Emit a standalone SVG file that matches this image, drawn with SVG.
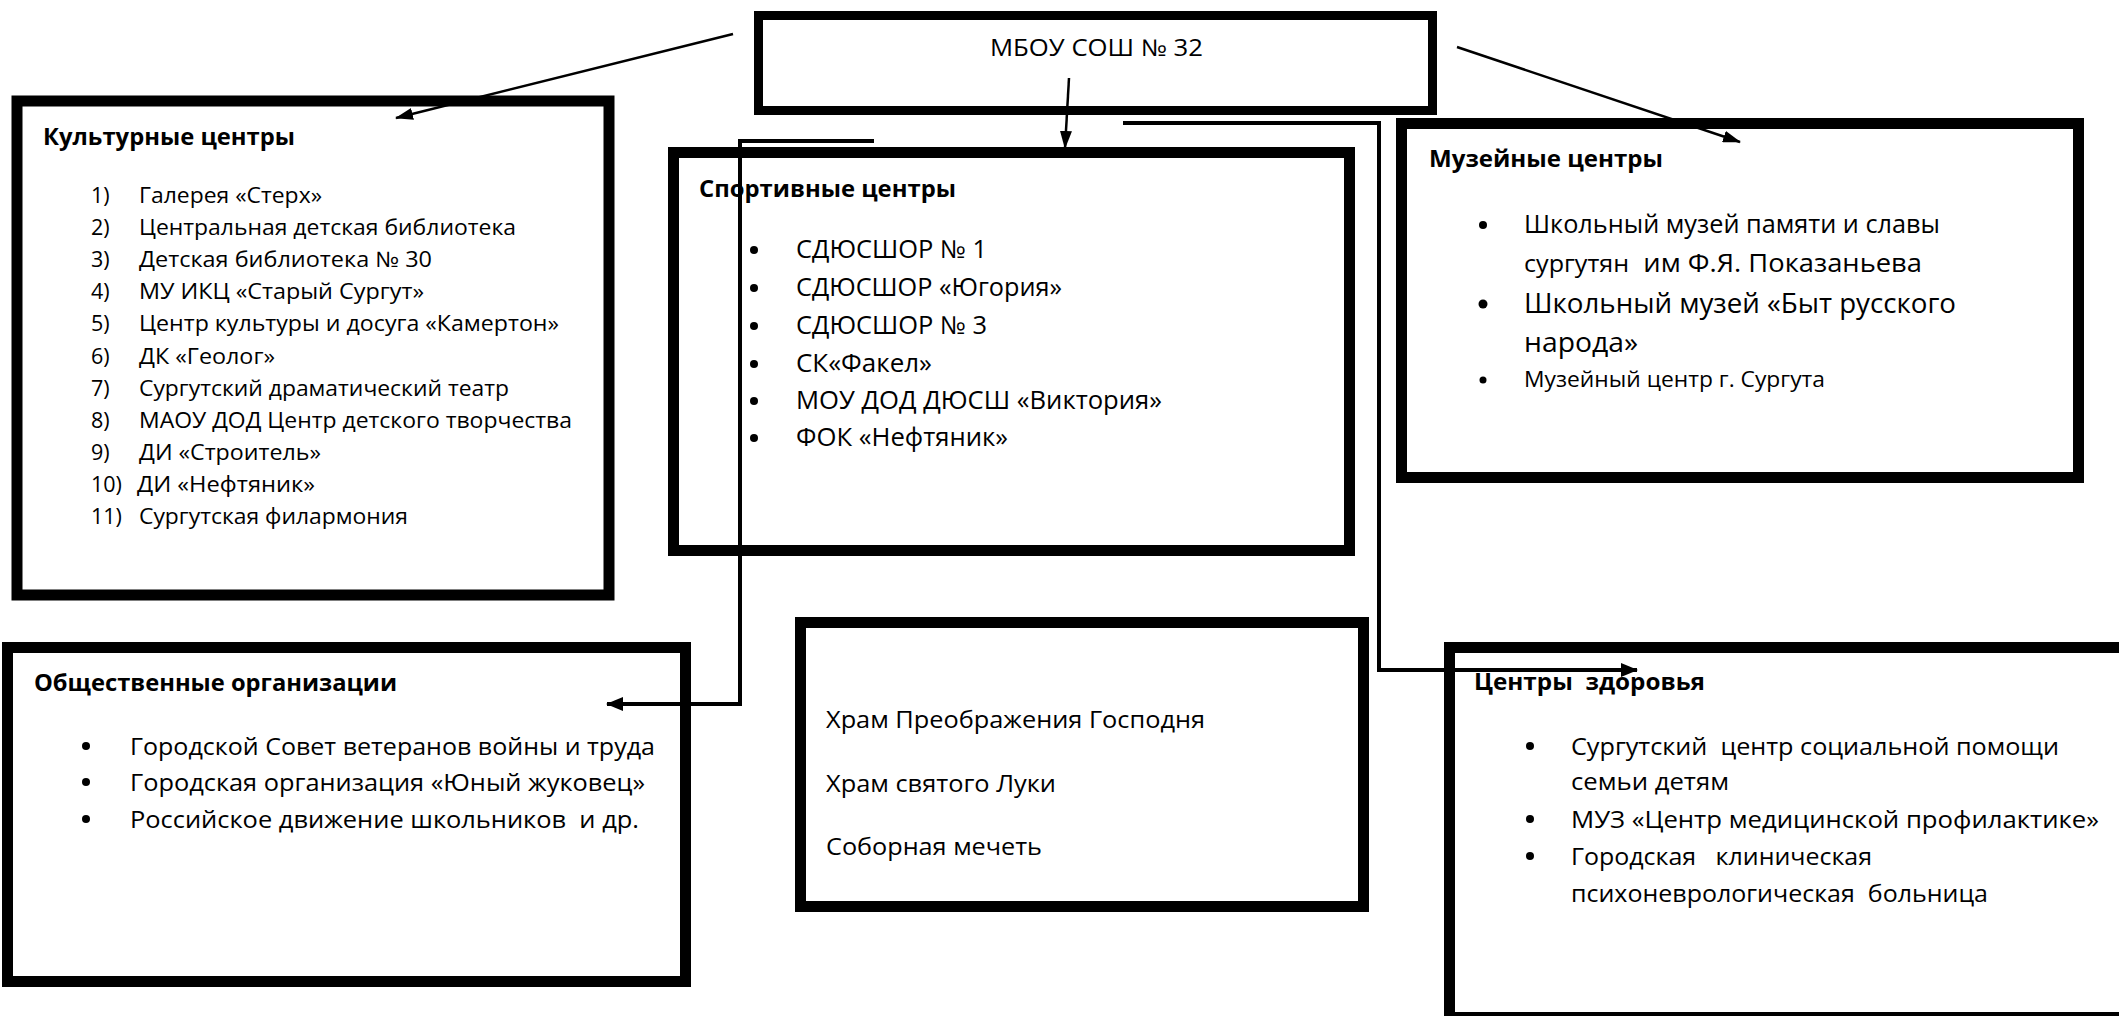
<svg xmlns="http://www.w3.org/2000/svg" width="2119" height="1016" viewBox="0 0 2119 1016" xml:space="preserve">
<style>
.box{fill:#fff;stroke:#000;stroke-width:11}
text{font-family:"Open Sans","Noto Sans","Liberation Sans",sans-serif;fill:#000;white-space:pre}
.h{font-weight:bold;font-size:23px}
.c{font-size:21.5px}
.s{font-size:25px}
.m{font-size:24px}
.cn{fill:none;stroke:#000;stroke-width:2.5}
.co{fill:none;stroke:#000;stroke-width:4}
</style>
<defs>
<marker id="ah" markerUnits="userSpaceOnUse" markerWidth="18" markerHeight="12" refX="17" refY="6" orient="auto"><path d="M0,0 L18,6 L0,12 z" fill="#000"/></marker>
<marker id="ahb" markerUnits="userSpaceOnUse" markerWidth="17" markerHeight="14" refX="16" refY="7" orient="auto"><path d="M0,0 L17,7 L0,14 z" fill="#000"/></marker>
</defs>
<rect width="2119" height="1016" fill="#fff"/>

<g id="top">
<rect x="758.5" y="15.5" width="674" height="95" fill="#fff" stroke="#000" stroke-width="9"/>
<text x="990" y="56" font-size="23" textLength="213" lengthAdjust="spacingAndGlyphs">МБОУ СОШ № 32</text>
</g>

<g id="culture">
<rect class="box" x="17" y="101" width="592" height="494" stroke-width="10"/>
<text class="h" x="43" y="145" textLength="252" lengthAdjust="spacingAndGlyphs">Культурные центры</text>
<text class="c" x="91" y="203">1)</text><text class="c" x="139" y="203" textLength="183" lengthAdjust="spacingAndGlyphs">Галерея «Стерх»</text>
<text class="c" x="91" y="235">2)</text><text class="c" x="139" y="235" textLength="377" lengthAdjust="spacingAndGlyphs">Центральная детская библиотека</text>
<text class="c" x="91" y="267">3)</text><text class="c" x="139" y="267" textLength="293" lengthAdjust="spacingAndGlyphs">Детская библиотека № 30</text>
<text class="c" x="91" y="299">4)</text><text class="c" x="139" y="299" textLength="285" lengthAdjust="spacingAndGlyphs">МУ ИКЦ «Старый Сургут»</text>
<text class="c" x="91" y="331">5)</text><text class="c" x="139" y="331" textLength="420" lengthAdjust="spacingAndGlyphs">Центр культуры и досуга «Камертон»</text>
<text class="c" x="91" y="364">6)</text><text class="c" x="139" y="364" textLength="136" lengthAdjust="spacingAndGlyphs">ДК «Геолог»</text>
<text class="c" x="91" y="396">7)</text><text class="c" x="139" y="396" textLength="370" lengthAdjust="spacingAndGlyphs">Сургутский драматический театр</text>
<text class="c" x="91" y="428">8)</text><text class="c" x="139" y="428" textLength="433" lengthAdjust="spacingAndGlyphs">МАОУ ДОД Центр детского творчества</text>
<text class="c" x="91" y="460">9)</text><text class="c" x="139" y="460" textLength="182" lengthAdjust="spacingAndGlyphs">ДИ «Строитель»</text>
<text class="c" x="91" y="492">10)</text><text class="c" x="137" y="492" textLength="178" lengthAdjust="spacingAndGlyphs">ДИ «Нефтяник»</text>
<text class="c" x="91" y="524">11)</text><text class="c" x="139" y="524" textLength="269" lengthAdjust="spacingAndGlyphs">Сургутская филармония</text>
</g>

<g id="sport">
<rect class="box" x="673.5" y="152.5" width="676" height="398"/>
<text class="h" x="699" y="197" textLength="257" lengthAdjust="spacingAndGlyphs">Спортивные центры</text>
<circle cx="754" cy="250" r="4"/><text class="s" x="796" y="258" textLength="191" lengthAdjust="spacingAndGlyphs">СДЮСШОР № 1</text>
<circle cx="754" cy="288" r="4"/><text class="s" x="796" y="296" textLength="266" lengthAdjust="spacingAndGlyphs">СДЮСШОР «Югория»</text>
<circle cx="754" cy="326" r="4"/><text class="s" x="796" y="334" textLength="191" lengthAdjust="spacingAndGlyphs">СДЮСШОР № 3</text>
<circle cx="754" cy="364" r="4"/><text class="s" x="796" y="372" textLength="136" lengthAdjust="spacingAndGlyphs">СК«Факел»</text>
<circle cx="754" cy="401" r="4"/><text class="s" x="796" y="409" textLength="366" lengthAdjust="spacingAndGlyphs">МОУ ДОД ДЮСШ «Виктория»</text>
<circle cx="754" cy="438" r="4"/><text class="s" x="796" y="446" textLength="212" lengthAdjust="spacingAndGlyphs">ФОК «Нефтяник»</text>
</g>

<g id="museum">
<rect class="box" x="1401.5" y="123.5" width="677" height="354"/>
<text class="h" x="1429" y="167" textLength="234" lengthAdjust="spacingAndGlyphs">Музейные центры</text>
<circle cx="1483" cy="225" r="4"/><text class="s" x="1524" y="233" textLength="416" lengthAdjust="spacingAndGlyphs">Школьный музей памяти и славы</text>
<text class="s" x="1524" y="272" textLength="398" lengthAdjust="spacingAndGlyphs"><tspan font-size="23">сургутян</tspan>  им Ф.Я. Показаньева</text>
<circle cx="1483" cy="304" r="4.5"/><text x="1524" y="313" font-size="27" textLength="432" lengthAdjust="spacingAndGlyphs">Школьный музей «Быт русского</text>
<text x="1524" y="352" font-size="27" textLength="114" lengthAdjust="spacingAndGlyphs">народа»</text>
<circle cx="1483" cy="380" r="3.5"/><text class="c" x="1524" y="387" textLength="301" lengthAdjust="spacingAndGlyphs">Музейный центр г. Сургута</text>
</g>

<g id="social">
<rect class="box" x="7.5" y="647.5" width="678" height="334"/>
<text class="h" x="34" y="691" textLength="363" lengthAdjust="spacingAndGlyphs">Общественные организации</text>
<circle cx="86" cy="746" r="4"/><text class="m" x="130" y="755" textLength="525" lengthAdjust="spacingAndGlyphs">Городской Совет ветеранов войны и труда</text>
<circle cx="86" cy="782" r="4"/><text class="m" x="130" y="791" textLength="515" lengthAdjust="spacingAndGlyphs">Городская организация «Юный жуковец»</text>
<circle cx="86" cy="819" r="4"/><text class="m" x="130" y="828" textLength="509" lengthAdjust="spacingAndGlyphs">Российское движение школьников  и др.</text>
</g>

<g id="temples">
<rect class="box" x="800.5" y="622.5" width="563" height="284"/>
<text class="m" x="826" y="728" textLength="379" lengthAdjust="spacingAndGlyphs">Храм Преображения Господня</text>
<text class="m" x="826" y="792" textLength="230" lengthAdjust="spacingAndGlyphs">Храм святого Луки</text>
<text class="m" x="826" y="855" textLength="216" lengthAdjust="spacingAndGlyphs">Соборная мечеть</text>
</g>

<g id="health">
<rect class="box" x="1449.5" y="647.5" width="700" height="370"/>
<text class="h" x="1474" y="690" textLength="231" lengthAdjust="spacingAndGlyphs">Центры  здоровья</text>
<circle cx="1530" cy="746" r="4"/><text class="m" x="1571" y="755" textLength="488" lengthAdjust="spacingAndGlyphs">Сургутский  центр социальной помощи</text>
<text class="m" x="1571" y="790" textLength="158" lengthAdjust="spacingAndGlyphs">семьи детям</text>
<circle cx="1530" cy="819" r="4"/><text class="m" x="1571" y="828" textLength="528" lengthAdjust="spacingAndGlyphs">МУЗ «Центр медицинской профилактике»</text>
<circle cx="1530" cy="856" r="4"/><text class="m" x="1571" y="865" textLength="301" lengthAdjust="spacingAndGlyphs">Городская   клиническая</text>
<text class="m" x="1571" y="902" textLength="417" lengthAdjust="spacingAndGlyphs">психоневрологическая  больница</text>
</g>

<g id="connectors">
<path class="cn" d="M733,34 L396,118" marker-end="url(#ah)"/>
<path class="cn" d="M1069,78 L1065,148" marker-end="url(#ah)"/>
<path class="cn" d="M1457,47 L1740,142" marker-end="url(#ah)"/>
<path class="co" d="M874,141 H740 V704 H607" marker-end="url(#ahb)"/>
<path class="co" d="M1123,123 H1379 V670 H1637" marker-end="url(#ahb)"/>
</g>
</svg>
